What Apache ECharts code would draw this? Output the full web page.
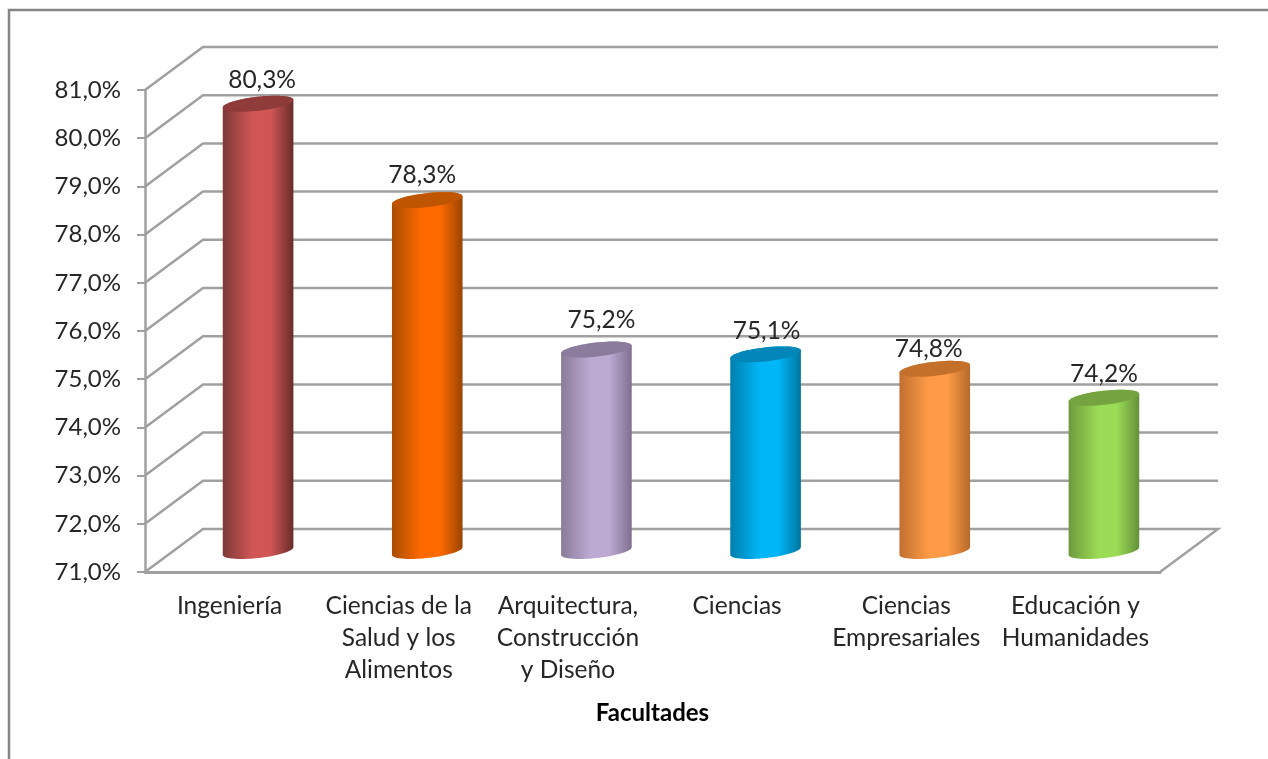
<!DOCTYPE html>
<html>
<head>
<meta charset="utf-8">
<style>html,body{margin:0;padding:0;background:#fff;overflow:hidden}#c{width:1268px;height:759px}</style>
<script src="https://cdn.jsdelivr.net/npm/echarts@6/dist/echarts.min.js"></script>
</head>
<body>
<div id="c"></div>
<script>
const categories = ['Ingeniería', 'Ciencias de la\nSalud y los\nAlimentos', 'Arquitectura,\nConstrucción\ny Diseño', 'Ciencias', 'Ciencias\nEmpresariales', 'Educación y\nHumanidades'];
const values = [80.3, 78.3, 75.2, 75.1, 74.8, 74.2];
const yTicks = [71, 72, 73, 74, 75, 76, 77, 78, 79, 80, 81];
const axisTitle = 'Facultades';

// [cap, edge-left, centre, edge-right]
const palette = [
  ['#8f3b39', '#7e3a38', '#cf5655', '#682c2a'],
  ['#c05500', '#a84c00', '#ff6a00', '#9a4500'],
  ['#8b7c9e', '#8a7b98', '#bcaad3', '#7f7090'],
  ['#0086b8', '#007fad', '#00b6f7', '#00769f'],
  ['#c4702a', '#c07030', '#ff9b47', '#b56a2a'],
  ['#74a33f', '#6d9a3c', '#9bdb56', '#63903a']
];
const labelNudge = [[4, -24], [-5, -25], [5, -29], [1, -23], [-6, -20], [0, -24]];

const DX = 58, DY = -43;
const FONT = 'Lato, "Open Sans", sans-serif';
const fmt = v => v.toFixed(1).replace('.', ',') + '%';
const LINE = '#a0a0a0';

function ellipsePts(cx, cy, rx, ry, t0, t1, n) {
  const a = -6.4 * Math.PI / 180, out = [];
  for (let i = 0; i <= n; i++) {
    const t = t0 + (t1 - t0) * i / n;
    out.push([
      cx + rx * Math.cos(t) * Math.cos(a) - ry * Math.sin(t) * Math.sin(a),
      cy + rx * Math.cos(t) * Math.sin(a) + ry * Math.sin(t) * Math.cos(a)
    ]);
  }
  return out;
}

function renderWall(params, api) {
  const v = api.value(1);
  const cs = params.coordSys;
  const y = api.coord([0, v])[1];
  const x0 = cs.x, x1 = cs.x + cs.width;
  const pts = [[x0, y], [x0 + DX, y + DY], [x1 + DX, y + DY]];
  if (v === yTicks[0]) pts.push([x1, y]);
  return {
    type: 'polyline',
    shape: { points: pts },
    style: { stroke: LINE, lineWidth: 2.5, fill: null },
    silent: true
  };
}

function renderCyl(params, api) {
  const i = api.value(0), v = api.value(1);
  const top = api.coord([i, v]);
  const base = api.coord([i, yTicks[0]]);
  const band = api.size([1, 0])[0];
  const rx = band * 0.21, ry = 7;
  const cx = top[0] + DX / 2 - 0.5;
  const topY = top[1] - 20, baseY = base[1] - 21;
  const c = palette[i];
  const body = ellipsePts(cx, baseY, rx, ry, 0, Math.PI, 30)
    .concat(ellipsePts(cx, topY, rx, ry, Math.PI, 2 * Math.PI, 30));
  const cap = ellipsePts(cx, topY, rx, ry, 0, 2 * Math.PI, 60);
  return {
    type: 'group',
    children: [
      {
        type: 'polygon', shape: { points: body },
        style: {
          fill: new echarts.graphic.LinearGradient(0, 0, 1, 0, [
            { offset: 0, color: c[1] },
            { offset: 0.42, color: c[2] },
            { offset: 0.68, color: c[2] },
            { offset: 1, color: c[3] }
          ])
        }
      },
      { type: 'polygon', shape: { points: cap }, style: { fill: c[0] } },
      {
        type: 'text', x: cx + labelNudge[i][0], y: topY + labelNudge[i][1],
        style: { text: fmt(v), font: '24.5px ' + FONT, fill: '#262626', align: 'center', verticalAlign: 'middle' }
      }
    ]
  };
}

const chart = echarts.init(document.getElementById('c'), null, { renderer: 'canvas' });
chart.setOption({
  animation: false,
  backgroundColor: '#fff',
  graphic: [{
    type: 'rect', z: -10,
    shape: { x: 9, y: 10, width: 1500, height: 1000 },
    style: { fill: '#fff', stroke: '#858585', lineWidth: 2.5 }
  }],
  grid: { left: 145, right: 108, top: 90, bottom: 187 },
  xAxis: {
    type: 'category',
    data: categories,
    axisLine: { show: true, lineStyle: { color: LINE, width: 3 } },
    axisTick: { show: false },
    axisLabel: { interval: 0, color: '#262626', fontFamily: FONT, fontSize: 24.5, lineHeight: 32, margin: 18, verticalAlign: 'top' },
    name: axisTitle,
    nameLocation: 'middle',
    nameGap: 141,
    nameTextStyle: { color: '#000', fontFamily: FONT, fontSize: 24, fontWeight: 'bold', verticalAlign: 'middle' }
  },
  yAxis: {
    type: 'value',
    min: yTicks[0],
    max: yTicks[yTicks.length - 1],
    interval: 1,
    axisLine: { show: true, lineStyle: { color: LINE, width: 2.5 } },
    axisTick: { show: true, length: 8, lineStyle: { color: LINE, width: 2 } },
    splitLine: { show: false },
    axisLabel: { formatter: fmt, color: '#262626', fontFamily: FONT, fontSize: 24, margin: 24, padding: [5, 0, 0, 0] }
  },
  series: [
    { type: 'custom', coordinateSystem: 'cartesian2d', clip: false, z: 1, renderItem: renderWall, data: yTicks.map(v => [0, v]) },
    { type: 'custom', coordinateSystem: 'cartesian2d', clip: false, z: 2, renderItem: renderCyl, data: values.map((v, i) => [i, v]) }
  ]
});
</script>
</body>
</html>
